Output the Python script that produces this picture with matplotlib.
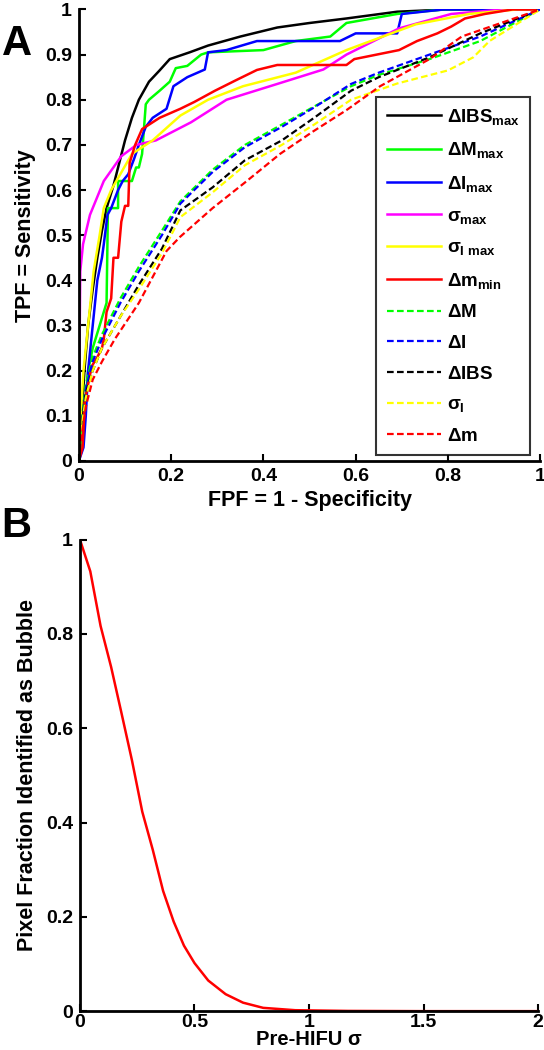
import numpy as np
import matplotlib
matplotlib.use("Agg")
import matplotlib.pyplot as plt

plt.rcParams['font.family'] = ['Liberation Sans', 'DejaVu Sans']
plt.rcParams['font.weight'] = 'bold'
plt.rcParams['mathtext.fontset'] = 'custom'
plt.rcParams['mathtext.rm'] = 'Liberation Sans:bold'
plt.rcParams['mathtext.it'] = 'Liberation Sans:bold'
plt.rcParams['mathtext.bf'] = 'Liberation Sans:bold'

# ---- panel A: ROC curves (FPF, TPF) ----
ibs_max_x = [0, 0.003, 0.008, 0.012, 0.02, 0.03, 0.04, 0.05, 0.06, 0.075, 0.085, 0.10, 0.115, 0.13,
             0.152, 0.175, 0.197, 0.24, 0.28, 0.35, 0.43, 0.50, 0.58, 0.69, 0.80, 1.0]
ibs_max_y = [0, 0.05, 0.13, 0.2, 0.3, 0.38, 0.45, 0.51, 0.56, 0.61, 0.65, 0.71, 0.76, 0.80,
             0.84, 0.865, 0.89, 0.905, 0.92, 0.94, 0.96, 0.97, 0.98, 0.995, 1.0, 1.0]

m_max_x = [0, 0.005, 0.012, 0.02, 0.03, 0.045, 0.06, 0.063, 0.07, 0.085, 0.085, 0.115, 0.124, 0.13,
           0.137, 0.145, 0.152, 0.175, 0.197, 0.21, 0.235, 0.265, 0.28, 0.40, 0.47, 0.545, 0.58,
           0.69, 0.79, 1.0]
m_max_y = [0, 0.04, 0.1, 0.2, 0.25, 0.3, 0.35, 0.56, 0.56, 0.56, 0.62, 0.62, 0.65, 0.65,
           0.68, 0.79, 0.80, 0.82, 0.84, 0.87, 0.875, 0.90, 0.905, 0.91, 0.93, 0.94, 0.97,
           0.99, 1.0, 1.0]

i_max_x = [0, 0.01, 0.015, 0.02, 0.03, 0.04, 0.05, 0.054, 0.062, 0.07, 0.085, 0.095, 0.107, 0.12,
           0.13, 0.145, 0.16, 0.19, 0.205, 0.235, 0.273, 0.28, 0.32, 0.386, 0.566, 0.60, 0.69,
           0.70, 0.79, 1.0]
i_max_y = [0, 0.03, 0.1, 0.2, 0.3, 0.4, 0.45, 0.48, 0.545, 0.56, 0.60, 0.62, 0.635, 0.67,
           0.70, 0.74, 0.76, 0.78, 0.83, 0.85, 0.867, 0.905, 0.91, 0.93, 0.93, 0.947, 0.947,
           0.99, 1.0, 1.0]

sig_max_x = [0, 0.001, 0.003, 0.009, 0.024, 0.054, 0.092, 0.125, 0.167, 0.243, 0.32, 0.43, 0.53,
             0.58, 0.694, 0.807, 0.92, 1.0]
sig_max_y = [0, 0.2, 0.42, 0.48, 0.545, 0.62, 0.675, 0.70, 0.71, 0.75, 0.80, 0.835, 0.867,
             0.90, 0.958, 0.99, 1.0, 1.0]

sigi_max_x = [0, 0.004, 0.01, 0.02, 0.032, 0.045, 0.054, 0.07, 0.115, 0.16, 0.22, 0.28, 0.356,
              0.47, 0.58, 0.73, 0.846, 0.95, 1.0]
sigi_max_y = [0, 0.1, 0.2, 0.3, 0.42, 0.5, 0.56, 0.60, 0.68, 0.71, 0.765, 0.80, 0.83,
              0.86, 0.91, 0.967, 0.99, 1.0, 1.0]

m_min_x = [0, 0.008, 0.013, 0.02, 0.028, 0.04, 0.05, 0.054, 0.06, 0.07, 0.075, 0.085, 0.092,
           0.10, 0.107, 0.11, 0.122, 0.137, 0.175, 0.22, 0.25, 0.295, 0.34, 0.386, 0.43, 0.58,
           0.597, 0.694, 0.733, 0.777, 0.807, 0.837, 0.88, 0.94, 1.0]
m_min_y = [0, 0.03, 0.135, 0.17, 0.21, 0.23, 0.25, 0.27, 0.33, 0.36, 0.45, 0.45, 0.53,
           0.565, 0.565, 0.66, 0.70, 0.735, 0.76, 0.78, 0.795, 0.82, 0.843, 0.866, 0.877, 0.877,
           0.89, 0.91, 0.93, 0.947, 0.962, 0.98, 0.99, 1.0, 1.0]

dM_x = [0, 0.005, 0.015, 0.03, 0.05, 0.09, 0.13, 0.18, 0.22, 0.29, 0.36, 0.44, 0.51, 0.59, 0.65,
        0.76, 0.87, 1.0]
dM_y = [0, 0.08, 0.17, 0.23, 0.28, 0.36, 0.43, 0.51, 0.575, 0.645, 0.70, 0.745, 0.785, 0.83,
        0.855, 0.89, 0.93, 1.0]

dI_x = [0, 0.005, 0.015, 0.03, 0.05, 0.09, 0.13, 0.18, 0.22, 0.29, 0.36, 0.44, 0.51, 0.59, 0.65,
        0.76, 0.87, 1.0]
dI_y = [0, 0.07, 0.16, 0.22, 0.27, 0.35, 0.42, 0.50, 0.57, 0.64, 0.695, 0.74, 0.783, 0.835,
        0.86, 0.90, 0.94, 1.0]

dIBS_x = [0, 0.005, 0.015, 0.03, 0.05, 0.09, 0.13, 0.18, 0.22, 0.29, 0.36, 0.44, 0.51, 0.59,
          0.65, 0.76, 0.87, 1.0]
dIBS_y = [0, 0.07, 0.15, 0.2, 0.25, 0.32, 0.39, 0.47, 0.555, 0.606, 0.666, 0.71, 0.76, 0.82,
          0.85, 0.894, 0.947, 1.0]

sigI_x = [0, 0.005, 0.015, 0.03, 0.05, 0.09, 0.13, 0.18, 0.22, 0.29, 0.36, 0.44, 0.51, 0.59,
          0.69, 0.80, 0.855, 0.89, 1.0]
sigI_y = [0, 0.07, 0.14, 0.2, 0.25, 0.32, 0.38, 0.46, 0.54, 0.595, 0.655, 0.70, 0.745, 0.80,
          0.836, 0.865, 0.894, 0.93, 1.0]

dm_x = [0, 0.005, 0.015, 0.03, 0.05, 0.078, 0.13, 0.19, 0.219, 0.29, 0.364, 0.436, 0.508, 0.58,
        0.653, 0.76, 0.83, 1.0]
dm_y = [0, 0.05, 0.12, 0.18, 0.22, 0.27, 0.35, 0.465, 0.496, 0.56, 0.62, 0.68, 0.73, 0.777,
        0.83, 0.89, 0.94, 1.0]

# ---- panel B ----
sigma = [0, 0.045, 0.09, 0.136, 0.18, 0.227, 0.272, 0.318, 0.363, 0.409, 0.454, 0.5, 0.56,
         0.636, 0.712, 0.80, 0.94, 1.17, 1.5, 2.0]
bubble_frac = [1.0, 0.933, 0.817, 0.73, 0.635, 0.532, 0.423, 0.342, 0.255, 0.19, 0.139, 0.102,
               0.065, 0.036, 0.018, 0.007, 0.002, 0.0005, 0.0, 0.0]

GREEN = (0, 1, 0)
MAGENTA = (1, 0, 1)
YELLOW = (1, 1, 0)

solid = [
    (ibs_max_x, ibs_max_y, 'k', r'$\Delta\mathrm{IBS}_{\mathrm{max}}$'),
    (m_max_x, m_max_y, GREEN, r'$\Delta\mathrm{M}_{\mathrm{max}}$'),
    (i_max_x, i_max_y, 'b', r'$\Delta\mathrm{I}_{\mathrm{max}}$'),
    (sig_max_x, sig_max_y, MAGENTA, r'$\sigma_{\mathrm{max}}$'),
    (sigi_max_x, sigi_max_y, YELLOW, r'$\sigma_{\mathrm{I\ max}}$'),
    (m_min_x, m_min_y, 'r', r'$\Delta\mathrm{m}_{\mathrm{min}}$'),
]
dashed = [
    (dM_x, dM_y, GREEN, r'$\Delta\mathrm{M}$'),
    (dI_x, dI_y, 'b', r'$\Delta\mathrm{I}$'),
    (dIBS_x, dIBS_y, 'k', r'$\Delta\mathrm{IBS}$'),
    (sigI_x, sigI_y, YELLOW, r'$\sigma_{\mathrm{I}}$'),
    (dm_x, dm_y, 'r', r'$\Delta\mathrm{m}$'),
]

fig = plt.figure(figsize=(5.44, 10.5), dpi=100)
ax1 = fig.add_axes([0.145, 0.561, 0.848, 0.430])
ax2 = fig.add_axes([0.147, 0.037, 0.842, 0.449])

for xs, ys, c, lab in solid:
    ax1.plot(xs, ys, color=c, lw=1.8, label=lab)
for xs, ys, c, lab in dashed:
    ax1.plot(xs, ys, color=c, lw=1.6, ls=(0, (3, 1.5)), label=lab)

ax1.set_xlim(0, 1)
ax1.set_ylim(0, 1)
ax1.set_xticks([0, 0.2, 0.4, 0.6, 0.8, 1])
ax1.set_xticklabels(['0', '0.2', '0.4', '0.6', '0.8', '1'])
ax1.set_yticks(np.arange(0, 1.01, 0.1))
ax1.set_yticklabels(['0', '0.1', '0.2', '0.3', '0.4', '0.5', '0.6', '0.7', '0.8', '0.9', '1'])
ax1.set_xlabel('FPF = 1 - Specificity', fontsize=15.5, fontweight='bold', labelpad=4)
ax1.set_ylabel('TPF = Sensitivity', fontsize=15.5, fontweight='bold', labelpad=6)

leg = ax1.legend(loc='upper right', bbox_to_anchor=(0.978, 0.807), fontsize=13.5,
                 handlelength=2.9, handletextpad=0.3, labelspacing=0.72,
                 borderpad=0.55, frameon=True, fancybox=False, borderaxespad=0)
leg.get_frame().set_edgecolor('k')
leg.get_frame().set_linewidth(1.5)

ax2.plot(sigma, bubble_frac, color='r', lw=1.8)
ax2.set_xlim(0, 2)
ax2.set_ylim(0, 1)
ax2.set_xticks([0, 0.5, 1, 1.5, 2])
ax2.set_xticklabels(['0', '0.5', '1', '1.5', '2'])
ax2.set_yticks([0, 0.2, 0.4, 0.6, 0.8, 1])
ax2.set_yticklabels(['0', '0.2', '0.4', '0.6', '0.8', '1'])
ax2.set_xlabel('Pre-HIFU σ', fontsize=14.5, fontweight='bold', labelpad=-1)
ax2.set_ylabel('Pixel Fraction Identified as Bubble', fontsize=15.5, fontweight='bold', labelpad=6)

for ax in (ax1, ax2):
    for s in ('top', 'right'):
        ax.spines[s].set_visible(False)
    for s in ('left', 'bottom'):
        ax.spines[s].set_linewidth(2)
    ax.tick_params(direction='in', length=5, width=1.5, labelsize=14, pad=5)
    for t in ax.get_xticklabels() + ax.get_yticklabels():
        t.set_fontweight('bold')
ax2.tick_params(axis='x', pad=2)

fig.text(0.003, 0.948, 'A', fontsize=30, fontweight='bold')
fig.text(0.003, 0.489, 'B', fontsize=30, fontweight='bold')

fig.savefig('out.png', dpi=100)
